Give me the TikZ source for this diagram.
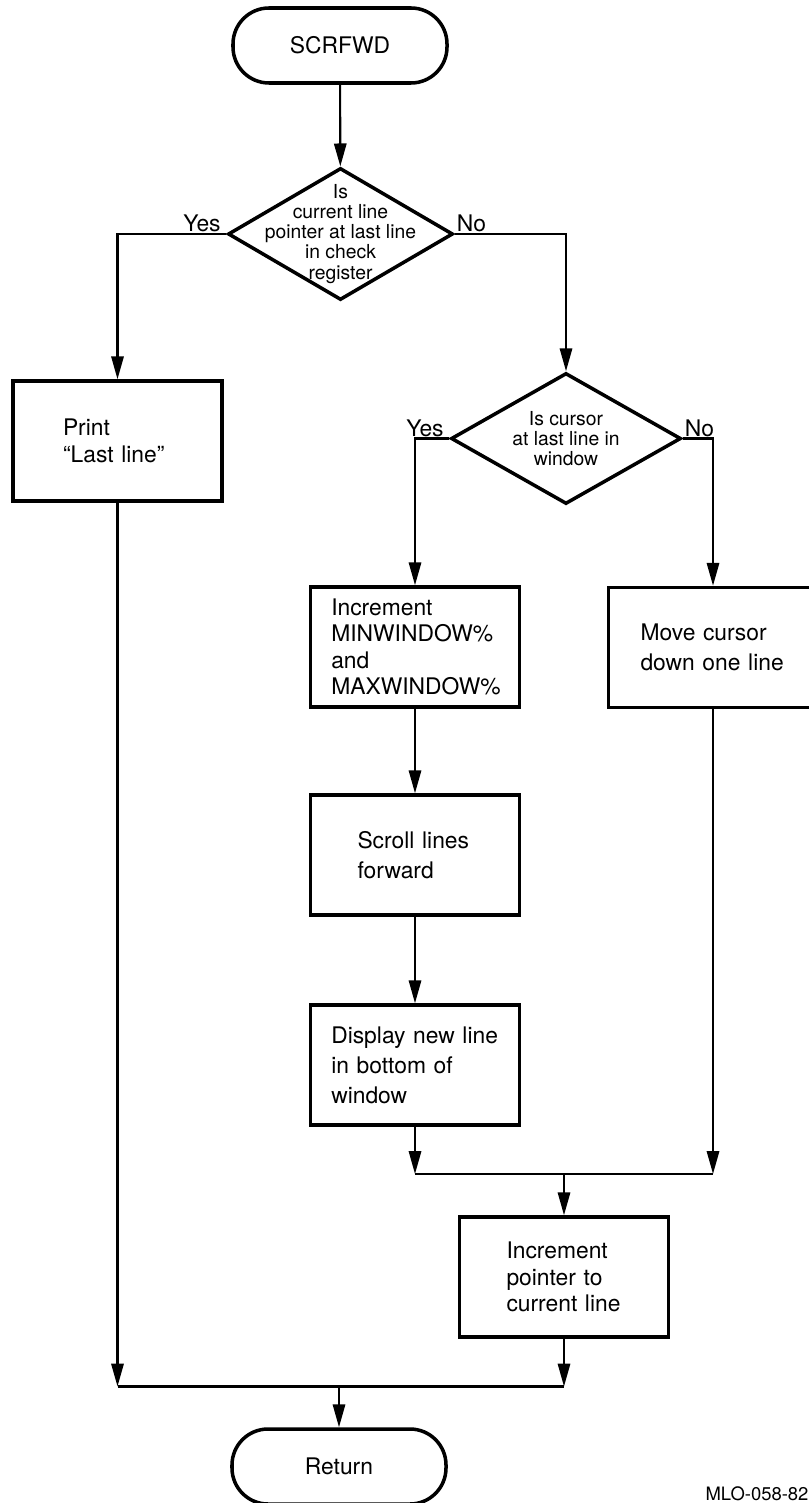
\documentclass[tikz,border=0pt]{standalone}
\usepackage{fontspec}
\setmainfont{TeX Gyre Heros}
\usetikzlibrary{shapes.geometric,arrows.meta}

\tikzset{
	term/.style={draw, line width=2pt, rounded corners=0.72cm, minimum width=4.28cm, minimum height=1.5cm, font=\fontsize{13}{15}\selectfont},
	proc/.style={draw, line width=2pt, minimum width=4.18cm, minimum height=2.4cm, align=left, inner sep=0pt, font=\fontsize{13}{15}\selectfont},
	dec/.style={draw, diamond, line width=2pt, inner sep=0pt},
	dtxt/.style={align=center, inner sep=0pt, font=\fontsize{11}{11.4}\selectfont},
	lbl/.style={inner sep=1pt, font=\fontsize{13}{15}\selectfont},
	arr/.style={line width=1.2pt, -{Triangle[length=13pt,width=7pt]}},
	ln/.style={line width=1.2pt},
}

\begin{document}
\begin{tikzpicture}

		\useasboundingbox (0,0) rectangle (16.16,-30.06);

		\node[term] (start) at ( 6.80, -0.91) {SCRFWD};

		\node[dec, minimum width=4.5cm, minimum height=2.64cm] (d1) at ( 6.81, -4.68) {};
		\node[dtxt] (q1) at (d1) {Is\\current line\\pointer at last line\\in check\\register};
		\node[lbl, anchor=south east, xshift=-2pt] (yes1) at (d1.west) {Yes};
		\node[lbl, anchor=south west] (no1) at (d1.east) {No};

		\node[proc, text width=2.18cm] (print) at ( 2.35, -8.82) {Print\\“Last line”};

		\node[dec, minimum width=4.6cm, minimum height=2.62cm] (d2) at (11.32, -8.77) {};
		\node[dtxt] (q2) at (d2) {Is cursor\\at last line in\\window};
		\node[lbl, anchor=south east, xshift=-2pt] (yes2) at (d2.west) {Yes};
		\node[lbl, anchor=south west] (no2) at (d2.east) {No};

		\node[proc, text width=3.35cm] (incr) at ( 8.30,-12.94) {Increment\\MINWINDOW\%\\and\\MAXWINDOW\%};
		\node[proc, text width=2.9cm, font=\fontsize{13}{17}\selectfont] (move) at (14.26,-12.95) {Move cursor\\down one line};
		\node[proc, text width=2.3cm, font=\fontsize{13}{17}\selectfont] (scroll) at ( 8.30,-17.10) {Scroll lines\\forward};
		\node[proc, text width=3.35cm, font=\fontsize{13}{17}\selectfont] (disp) at ( 8.30,-21.30) {Display new line\\in bottom of\\window};

		\coordinate (j1) at (11.28,-23.48);
		\node[proc, text width=2.3cm] (ptr) at (11.28,-25.54) {Increment\\pointer to\\current line};

		\coordinate (j2) at ( 6.78,-27.73);
		\node[term] (ret) at ( 6.78,-29.33) {Return};

		\node[font=\fontsize{10.5}{12}\selectfont, inner sep=0pt] (fig) at (15.14,-29.88) {MLO-058-82};

		\draw[arr] (start) to (d1);
		\draw[arr] (d1.west) -| (print.north);
		\draw[arr] (d1.east) -| (d2.north);
		\draw[arr] (d2.west) -| (incr.north);
		\draw[arr] (d2.east) -| (move.north);
		\draw[arr] (incr) to (scroll);
		\draw[arr] (scroll) to (disp);

		\draw[arr] (disp.south) -- (disp.south |- j1);
		\draw[arr] (move.south) -- (move.south |- j1);
		\draw[ln] (disp.south |- j1) -- (move.south |- j1);
		\draw[arr] (j1) -- (ptr.north);

		\draw[arr] (print.south) -- (print.south |- j2);
		\draw[arr] (ptr.south) -- (ptr.south |- j2);
		\draw[ln] (print.south |- j2) -- (ptr.south |- j2);
		\draw[arr] (j2) -- (ret.north);

	\end{tikzpicture}
\end{document}
